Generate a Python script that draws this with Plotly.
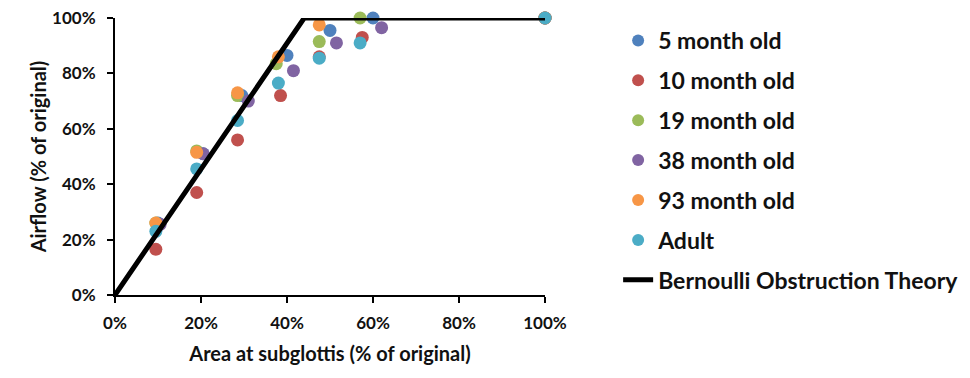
import plotly.graph_objects as go

series_names = ["5 month old", "10 month old", "19 month old", "38 month old", "93 month old", "Adult"]
colors = ["#4F81BD", "#C0504D", "#9BBB59", "#8064A2", "#F79646", "#4BACC6"]

x_5m = [10, 20.5, 29.5, 40, 50, 60, 100]
y_5m = [26, 51, 72, 86.5, 95.5, 100, 100]
x_10m = [9.5, 19, 28.5, 38.5, 47.5, 57.5, 100]
y_10m = [16.5, 37, 56, 72, 86, 93, 100]
x_19m = [9.5, 19, 28.5, 37.5, 47.5, 57, 100]
y_19m = [26, 52, 72, 83.5, 91.5, 100, 100]
x_38m = [10.5, 20.5, 31, 41.5, 51.5, 62, 100]
y_38m = [25.5, 51, 70, 81, 91, 96.5, 100]
x_93m = [9.5, 19, 28.5, 38, 47.5, 100]
y_93m = [26, 51.5, 73, 86, 97.5, 100]
x_adult = [9.5, 19, 28.5, 38, 47.5, 57, 100]
y_adult = [23, 45.5, 63, 76.5, 85.5, 91, 100]

theory_x = [0, 44, 100]
theory_y = [0, 100, 100]

xs = [x_5m, x_10m, x_19m, x_38m, x_93m, x_adult]
ys = [y_5m, y_10m, y_19m, y_38m, y_93m, y_adult]

FONT = "Lato"
TXT = "#111111"
fig = go.Figure()
for name, c, x, y in zip(series_names, colors, xs, ys):
    fig.add_trace(go.Scatter(x=x, y=y, mode="markers", name=name, legendgroup=name,
                             marker=dict(color=c, size=13, opacity=1),
                             cliponaxis=False))
fig.add_trace(go.Scatter(x=theory_x, y=theory_y, mode="lines", name="Bernoulli Obstruction Theory",
                         legendgroup="theory", line=dict(color="black", width=5),
                         cliponaxis=False))

axis_common = dict(showgrid=False, zeroline=False, showline=True, linecolor="black", linewidth=2,
                   ticks="outside", ticklen=6, tickwidth=2, tickcolor="black", automargin=False,
                   ticklabeloverflow="allow",
                   tickfont=dict(family=FONT, size=17, color=TXT, weight="bold"),
                   ticksuffix="%", range=[0, 100], dtick=20)
fig.update_xaxes(**axis_common, ticklabelstandoff=6,
                 title=dict(text="Area at subglottis (% of original)", standoff=15,
                            font=dict(family=FONT, size=20, color=TXT, weight="bold")))
fig.update_yaxes(**axis_common, ticklabelstandoff=8,
                 title=dict(text="Airflow (% of original)", standoff=0,
                            font=dict(family=FONT, size=20, color=TXT, weight="bold")))

fig.update_layout(
    width=970, height=378,
    margin=dict(l=107, r=433, t=10, b=91),
    plot_bgcolor="white", paper_bgcolor="white",
    legend=dict(xref="container", yref="container", x=0.629, xanchor="left",
                y=0.971, yanchor="top", maxheight=1,
                font=dict(family=FONT, size=23, color=TXT, weight="bold"),
                tracegroupgap=7, traceorder="grouped", itemsizing="constant"),
)
fig.write_html("out.html")
